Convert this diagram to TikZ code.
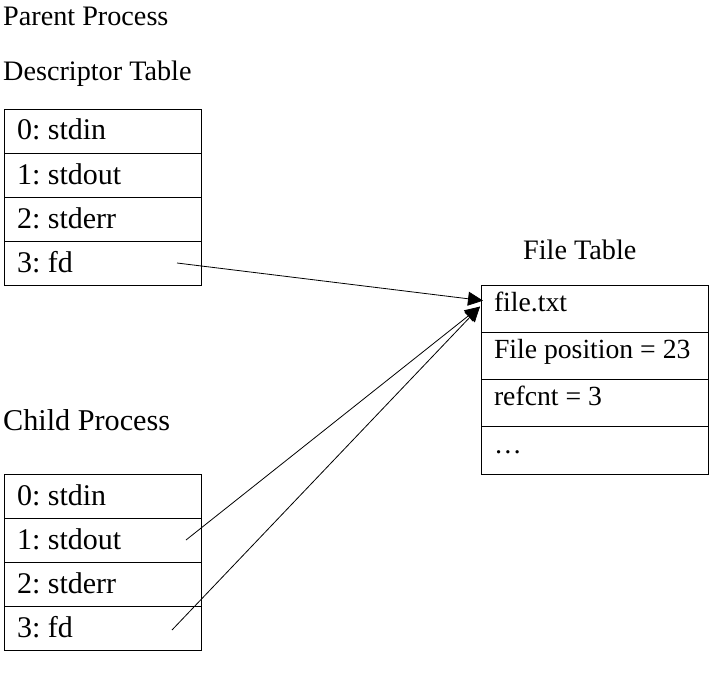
\documentclass[tikz,border=0pt]{standalone}
\usepackage{fontspec}
\setmainfont{Liberation Serif}
\usetikzlibrary{calc,arrows.meta,chains,positioning}

\tikzset{
  title/.style={anchor=base west,inner sep=0pt,font=\fontsize{28.2}{33}\selectfont},
  slot/.style={draw,line width=0.8pt,outer sep=0pt,inner xsep=13pt,inner ysep=0pt,
    text width=171pt,align=flush left,text height=31pt,text depth=13pt,
    font=\fontsize{30}{35}\selectfont\frenchspacing},
  entry/.style={slot,text width=201pt,text height=26.5pt,text depth=20.75pt,
    font=\fontsize{27.7}{33}\selectfont\frenchspacing},
  link/.style={line width=0.8pt,-{Triangle[length=15pt,width=14pt]}}
}

\begin{document}
\begin{tikzpicture}[x=1pt,y=-1pt]
\useasboundingbox (0,0) rectangle (727,679);

\node [title] (parent) at (3,26) {Parent Process};
\node [title] (desc) at (3,81) {Descriptor Table};
\node [title,font=\fontsize{30.2}{35}\selectfont] (child) at (3,430) {Child Process};
\node [title] (ftab) at (523,259) {File Table};

\begin{scope}[shift={(102.5,131)},start chain=going below,node distance=0pt]
\def\pslots{0/{stdin},1/{stdout},2/{stderr},3/{fd}}
\foreach \i / \element in \pslots
  \node [slot,on chain] (p\i) {\i: \element};
\end{scope}

\begin{scope}[shift={(102.5,496)},start chain=going below,node distance=0pt]
\def\cslots{0/{stdin},1/{stdout},2/{stderr},3/{fd}}
\foreach \i / \element in \cslots
  \node [slot,on chain] (c\i) {\i: \element};
\end{scope}

\begin{scope}[shift={(594.5,308.6)},start chain=going below,node distance=0pt]
\def\fslots{0/{file.txt},1/{File position = 23},2/{refcnt = 3},3/{…}}
\foreach \i / \element in \fslots
  \node [entry,on chain] (f\i) {\element};
\end{scope}

\coordinate (pfrom) at ($(p3.east)+(-24,0)$);
\coordinate (cfrom1) at ($(c1.east)+(-15,0)$);
\coordinate (cfrom3) at ($(c3.east)+(-29,2)$);
\coordinate (pto) at ($(f0.west)+(2,-8)$);
\coordinate (cto) at ($(f0.west)+(-1,-2)$);

\draw [link] (pfrom) -- (pto);
\draw [link] (cfrom1) -- (cto);
\draw [link] (cfrom3) -- (cto);

\end{tikzpicture}
\end{document}
